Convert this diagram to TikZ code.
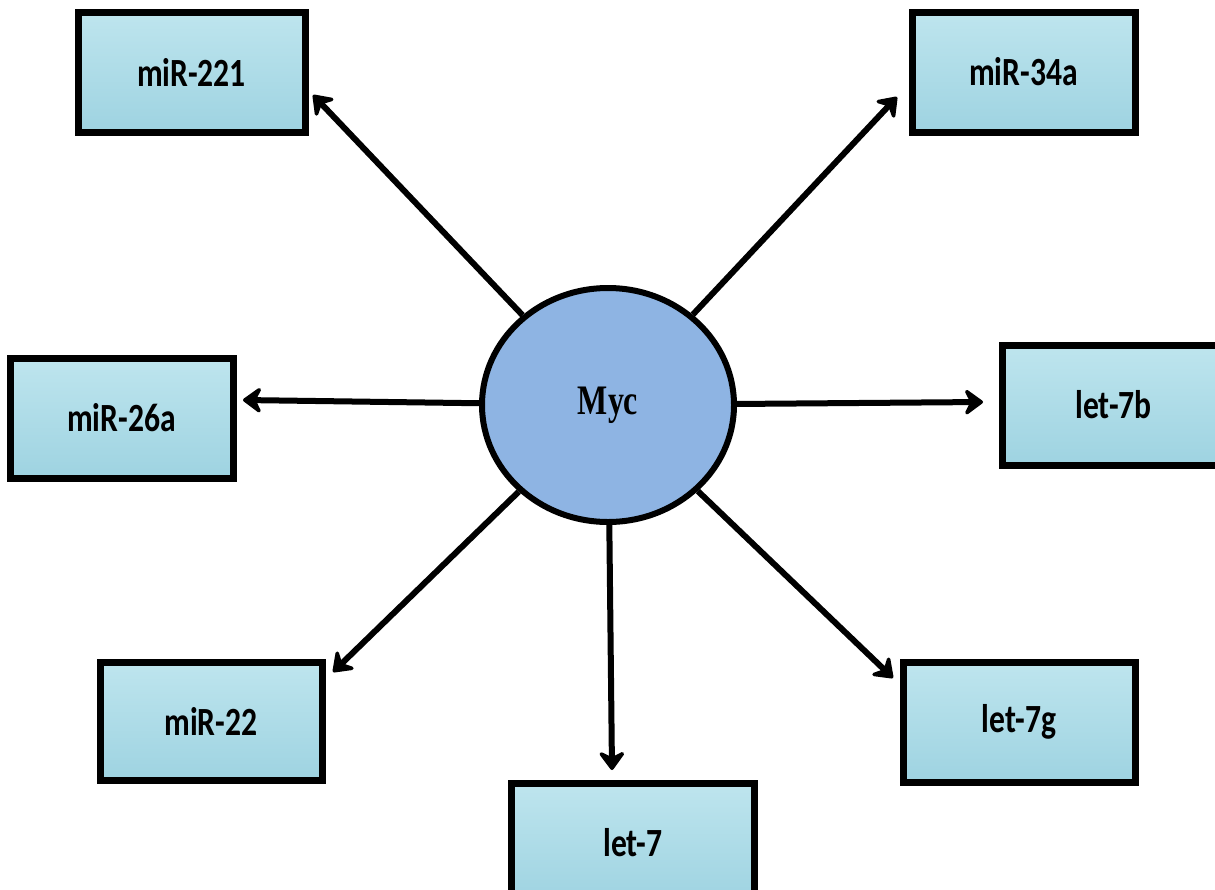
\documentclass[tikz,border=0pt]{standalone}
\usepackage{fontspec}
\newfontfamily\boxfont{Carlito}
\newfontfamily\mycfont{Liberation Serif}
\usetikzlibrary{arrows.meta,shapes.geometric}
\definecolor{boxfill}{RGB}{190,229,238}
\definecolor{boxfilldark}{RGB}{158,211,225}
\definecolor{mycfill}{RGB}{142,180,227}
\newcommand\condense[2]{\scalebox{#1}[1]{#2}}
\tikzset{
  mirbox/.style={draw=black, line width=7pt, top color=boxfill, bottom color=boxfilldark,
    minimum width=#1, minimum height=120pt, inner sep=0pt,
    font=\boxfont\bfseries\fontsize{40}{44}\selectfont},
  mirbox/.default=223pt,
  hub/.style={ellipse, draw=black, line width=6pt, fill=mycfill, minimum width=252pt,
    minimum height=234pt, inner sep=0pt, font=\mycfont\bfseries\fontsize{42}{46}\selectfont},
  link/.style={line width=6pt, -{Stealth[length=22pt, width=32pt, inset=8pt, round]}}
}
\begin{document}
\begin{tikzpicture}[x=1pt, y=-1pt]
\useasboundingbox (0,0) rectangle (1215,889);
\clip (0,0) rectangle (1215,889);
\fill[white] (0,0) rectangle (1215,889);
\node[hub] (myc) at (608,405) {\condense{0.76}{Myc}};
\node[mirbox=227pt] (m221) at (191.5,72) {\condense{0.79}{miR-221}};
\node[mirbox] (m34a) at (1023.5,72) {\condense{0.79}{miR-34a}};
\node[mirbox] (m26a) at (121.5,418) {\condense{0.79}{miR-26a}};
\node[mirbox] (l7b) at (1113.5,405) {\condense{0.79}{let-7b}};
\node[mirbox=222pt, minimum height=118pt] (m22) at (211,721) {\condense{0.79}{miR-22}};
\node[mirbox=243pt] (l7) at (633,843) {\condense{0.79}{let-7}};
\node[mirbox=232pt] (l7g) at (1019,722) {\condense{0.79}{let-7g}};
\coordinate (t221) at (313,95);
\coordinate (t34a) at (897,97);
\coordinate (t26a) at (243,400);
\coordinate (t7b) at (983,402);
\coordinate (t22) at (333,672);
\coordinate (t7) at (612,770);
\coordinate (t7g) at (893,678);
\foreach \t in {t221,t34a,t26a,t7b,t22,t7,t7g}
  \draw[link] (myc) -- (\t);
\end{tikzpicture}
\end{document}
